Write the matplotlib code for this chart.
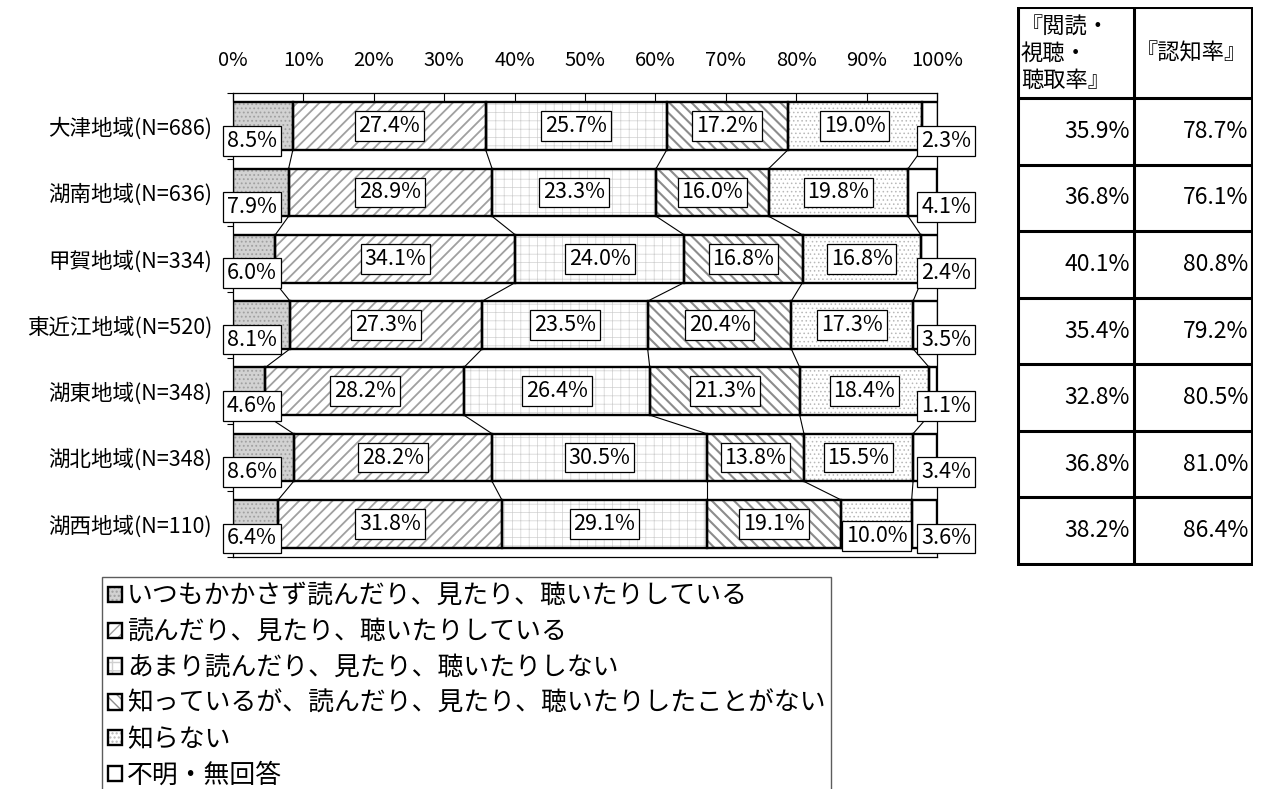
import numpy as np
import matplotlib
matplotlib.use("Agg")
import matplotlib.pyplot as plt
from matplotlib.legend_handler import HandlerTuple

plt.rcParams['font.family'] = ['Noto Sans CJK JP', 'DejaVu Sans']

regions = ['大津地域(N=686)', '湖南地域(N=636)', '甲賀地域(N=334)', '東近江地域(N=520)',
           '湖東地域(N=348)', '湖北地域(N=348)', '湖西地域(N=110)']
always = [8.5, 7.9, 6.0, 8.1, 4.6, 8.6, 6.4]
reading = [27.4, 28.9, 34.1, 27.3, 28.2, 28.2, 31.8]
rarely = [25.7, 23.3, 24.0, 23.5, 26.4, 30.5, 29.1]
known_not = [17.2, 16.0, 16.8, 20.4, 21.3, 13.8, 19.1]
unknown = [19.0, 19.8, 16.8, 17.3, 18.4, 15.5, 10.0]
no_answer = [2.3, 4.1, 2.4, 3.5, 1.1, 3.4, 3.6]
series_names = ['いつもかかさず読んだり、見たり、聴いたりしている',
                '読んだり、見たり、聴いたりしている',
                'あまり読んだり、見たり、聴いたりしない',
                '知っているが、読んだり、見たり、聴いたりしたことがない',
                '知らない',
                '不明・無回答']
read_rate = [35.9, 36.8, 40.1, 35.4, 32.8, 36.8, 38.2]
aware_rate = [78.7, 76.1, 80.8, 79.2, 80.5, 81.0, 86.4]
table_head = ['『閲読・\n視聴・\n聴取率』', '『認知率』']

# face colour, hatch, hatch colour, hatch width
styles = [('#d2d2d2', '....', '#a0a0a0', 0.8),
          ('white', '///', '#a0a0a0', 1.3),
          ('white', '++', '#d0d0d0', 0.5),
          ('white', '\\\\\\', '#8c8c8c', 1.5),
          ('white', '....', '#b8b8b8', 0.6),
          ('white', '', 'white', 0.5)]

W, H = 1261, 789
fig = plt.figure(figsize=(W / 100, H / 100), dpi=100)
ax = fig.add_axes([233 / W, 1 - 557 / H, 704 / W, 464 / H])

data = np.array([always, reading, rarely, known_not, unknown, no_answer]).T
cum = np.hstack([np.zeros((len(regions), 1)), np.cumsum(data, axis=1)])
y = np.arange(len(regions))
bh = 0.72

# series lines between bars
for i in range(len(regions) - 1):
    for k in range(1, data.shape[1]):
        ax.plot([cum[i, k], cum[i + 1, k]], [i + bh / 2, i + 1 - bh / 2],
                color='black', lw=0.8, zorder=1)

handles = []
for j in range(data.shape[1]):
    face, hatch, hc, hw = styles[j]
    with plt.rc_context({'hatch.linewidth': hw}):
        fill = ax.barh(y, data[:, j], left=cum[:, j], height=bh, color=face,
                       edgecolor=hc, hatch=hatch, linewidth=0, zorder=2)
    edge = ax.barh(y, data[:, j], left=cum[:, j], height=bh, fill=False,
                   edgecolor='black', linewidth=1.7, zorder=3)
    handles.append((fill.patches[0], edge.patches[0]))

# value labels
box = dict(boxstyle='square,pad=0.18', fc='white', ec='black', lw=0.9)
low = {(6, 4)}
for i in range(len(regions)):
    for j in range(data.shape[1]):
        txt = f'{data[i, j]:.1f}%'
        if j == 0:
            x, dy = 2.7, -10.5
        elif j == data.shape[1] - 1:
            x, dy = 101.3, -10.5
        else:
            x = cum[i, j] + data[i, j] / 2
            dy = -8.5 if (i, j) in low else 0
        ax.annotate(txt, (x, i), xytext=(0, dy), textcoords='offset points',
                    ha='center', va='center', fontsize=15.5, bbox=box,
                    zorder=5, annotation_clip=False)

ax.set_xlim(0, 100)
ax.set_ylim(len(regions) - 0.5, -0.5)
ax.xaxis.tick_top()
ax.set_xticks(np.arange(0, 101, 10))
ax.set_xticklabels([f'{v}%' for v in range(0, 101, 10)], fontsize=14.5)
ax.tick_params(axis='x', direction='in', length=6.5, pad=16, width=0.8)
ax.set_yticks(y)
ax.set_yticklabels(regions, fontsize=15.5)
ax.tick_params(axis='y', length=0, pad=15)
ax.set_yticks(np.arange(-0.5, len(regions), 1), minor=True)
ax.tick_params(axis='y', which='minor', length=4, width=0.8)
for s in ax.spines.values():
    s.set_linewidth(0.9)

# table on the right
tx = fig.add_axes([1017 / W, 1 - 566 / H, 236 / W, 559 / H])
tx.set_xlim(1017, 1253)
tx.set_ylim(566, 7)
tx.axis('off')
head_b = 98
row_h = (564 - head_b) / len(regions)
lw = 2.2
for xv in [1018, 1134, 1252]:
    tx.plot([xv, xv], [7, 564], color='black', lw=lw, solid_capstyle='projecting')
tx.plot([1018, 1252], [7, 7], color='black', lw=lw, solid_capstyle='projecting')
for k in range(len(regions) + 1):
    yy = head_b + k * row_h
    tx.plot([1018, 1252], [yy, yy], color='black', lw=lw, solid_capstyle='projecting')
tx.text(1021, (7 + head_b) / 2 + 1, table_head[0], ha='left', va='center',
        fontsize=16, linespacing=1.2)
tx.text(1136, (7 + head_b) / 2, table_head[1], ha='left', va='center', fontsize=16)
for i in range(len(regions)):
    yc = head_b + (i + 0.5) * row_h
    tx.text(1130, yc, f'{read_rate[i]:.1f}%', ha='right', va='center', fontsize=16.5)
    tx.text(1248, yc, f'{aware_rate[i]:.1f}%', ha='right', va='center', fontsize=16.5)

leg = fig.legend(handles, series_names, handler_map={tuple: HandlerTuple()},
                 loc='upper left', bbox_to_anchor=(102 / W, 1 - 577 / H),
                 fontsize=18.6, frameon=True, fancybox=False, edgecolor='#333333',
                 handlelength=0.55, handleheight=0.55, handletextpad=0.2,
                 labelspacing=0.34, borderpad=0.22, borderaxespad=0)
leg.get_frame().set_linewidth(1.0)

fig.savefig('out.png', dpi=100)
